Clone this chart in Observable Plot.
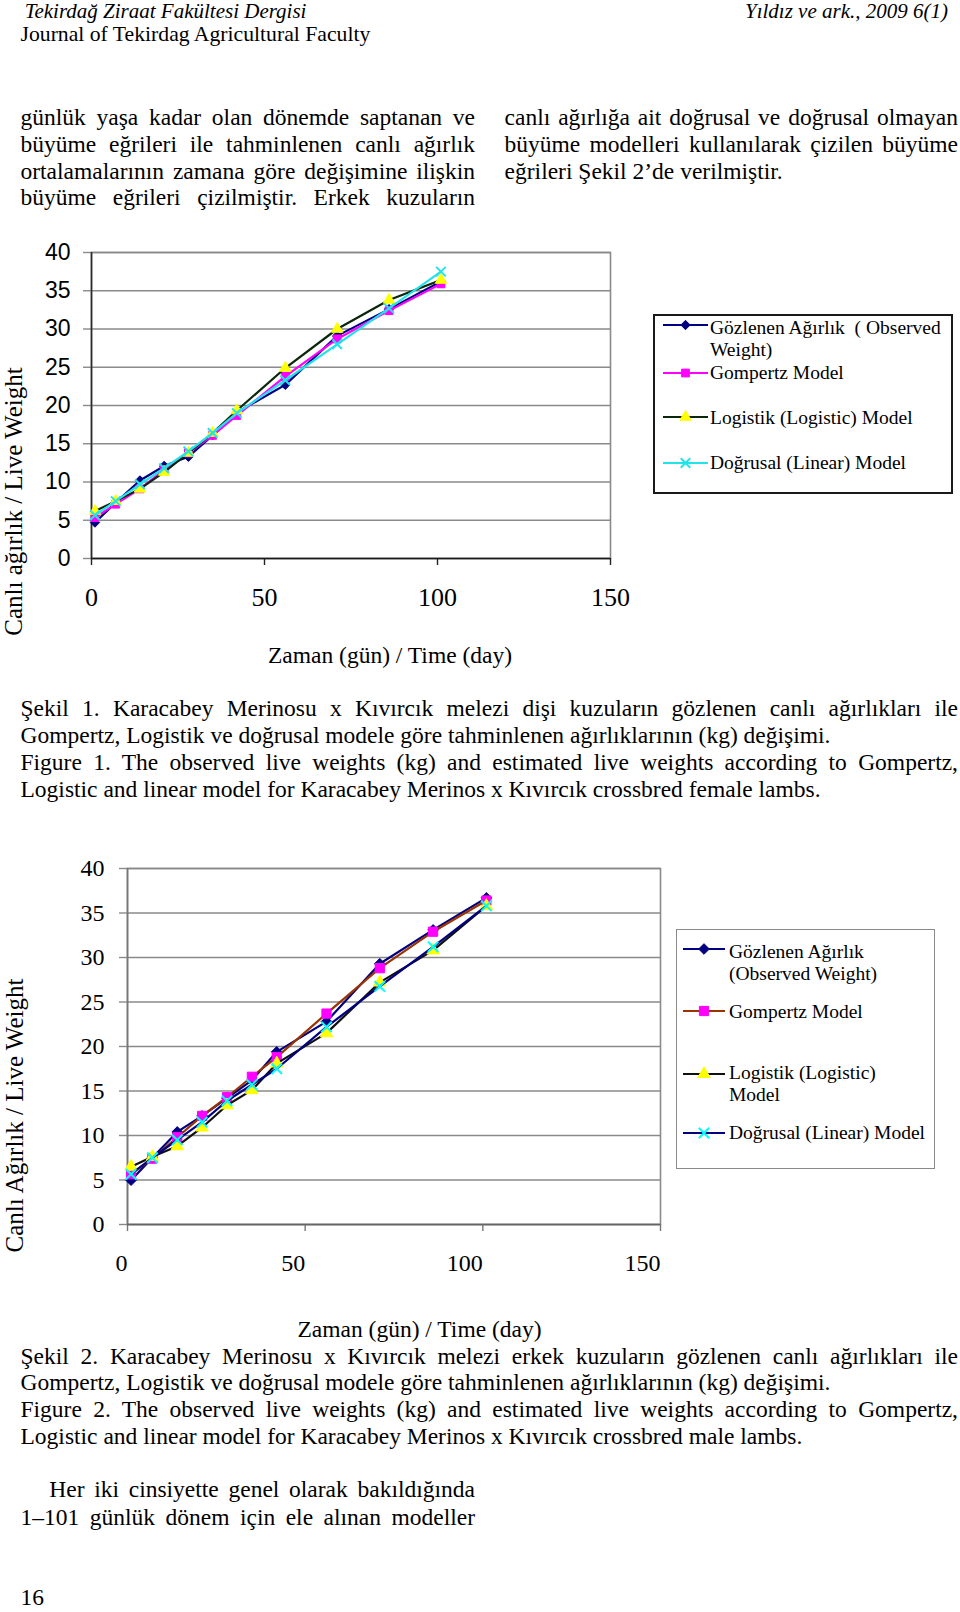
<!DOCTYPE html>
<html>
<head>
<meta charset="utf-8">
<script src="https://cdn.jsdelivr.net/npm/d3@7"></script>
<script src="https://cdn.jsdelivr.net/npm/@observablehq/plot@0.6"></script>
<style>
html,body{margin:0;padding:0;background:#fff;}
#page{position:relative;width:960px;height:1612px;overflow:hidden;background:#fff;font-family:"Liberation Serif","Times New Roman",serif;color:#000;}
.ln{position:absolute;line-height:1;white-space:pre;}
.jl{position:absolute;line-height:1;white-space:nowrap;text-align:justify;text-align-last:justify;}
.chart{position:absolute;left:0;}
.legend{position:absolute;box-sizing:border-box;background:#fff;}
.sw{position:absolute;overflow:visible;}
</style>
</head>
<body>
<div id="page"></div>
<script>
// ---------------- data ----------------
const days = [1, 7, 14, 21, 28, 35, 42, 56, 71, 86, 101];
const seriesNames = ["Observed", "Gompertz", "Logistic", "Linear"];

// Figure 1 (female lambs)
const femaleObserved = [4.7, 7.3, 10.2, 12.1, 13.3, 16.1, 19.1, 22.7, 29.1, 32.6, 36.2];
const femaleGompertz = [5.35, 7.1, 9.1, 11.6, 13.8, 16.1, 18.7, 23.8, 28.7, 32.4, 35.9];
const femaleLogistic = [6.2, 7.5, 9.1, 11.3, 13.8, 16.4, 19.35, 24.9, 30.0, 33.8, 36.4];
const femaleLinear   = [5.65, 7.5, 9.7, 11.8, 14.0, 16.4, 19.0, 23.3, 28.0, 32.7, 37.5];

// Figure 2 (male lambs)
const maleObserved = [4.98, 7.5, 10.4, 12.2, 14.2, 16.2, 19.4, 22.8, 29.3, 33.1, 36.7];
const maleGompertz = [5.65, 7.4, 9.8, 12.2, 14.3, 16.6, 18.8, 23.7, 28.8, 32.9, 36.4];
const maleLogistic = [6.5, 7.6, 8.8, 10.9, 13.4, 15.1, 18.1, 21.5, 27.2, 30.8, 35.8];
const maleLinear   = [5.65, 7.5, 9.5, 11.5, 13.9, 15.7, 17.5, 22.2, 26.75, 31.2, 35.8];

const xTicks = [0, 50, 100, 150];
const yTicks = [0, 5, 10, 15, 20, 25, 30, 35, 40];
const xLabel = "Zaman (gün) / Time (day)";
const yLabel1 = "Canlı ağırlık / Live Weight";
const yLabel2 = "Canlı Ağırlık / Live Weight";
const legend1Labels = [["Gözlenen Ağırlık  ( Observed", "Weight)"], ["Gompertz Model"], ["Logistik (Logistic) Model"], ["Doğrusal (Linear) Model"]];
const legend2Labels = [["Gözlenen Ağırlık", "(Observed Weight)"], ["Gompertz Model"], ["Logistik (Logistic)", "Model"], ["Doğrusal (Linear) Model"]];

// ---------------- styles ----------------
const style1 = [
  {line: "#000080", symbol: "diamond2", fill: "#000080", stroke: "#000080", r: 4.2, sw: 1},
  {line: "#ff00ff", symbol: "square", fill: "#ff00ff", stroke: "#ff00ff", r: 4.4, sw: 1},
  {line: "#0b260b", symbol: "triangle", fill: "#ffff00", stroke: "#ffff00", r: 4.2, sw: 1},
  {line: "#22e2ea", symbol: "times", fill: "none", stroke: "#22e2ea", r: 4.4, sw: 2}
];
const style2 = [
  {line: "#000080", symbol: "diamond2", fill: "#000080", stroke: "#000080", r: 4.8, sw: 1},
  {line: "#993300", symbol: "square", fill: "#ff00ff", stroke: "#ff00ff", r: 5.2, sw: 1},
  {line: "#101010", symbol: "triangle", fill: "#ffff00", stroke: "#ffff00", r: 4.6, sw: 1},
  {line: "#000080", symbol: "times", fill: "none", stroke: "#00ffff", r: 4.8, sw: 2}
];

const page = document.getElementById("page");

function addLine(text, o) {
  const d = document.createElement("div");
  const size = o.size || 23.5;
  d.className = o.w ? "jl" : "ln";
  d.textContent = text;
  d.style.fontSize = size + "px";
  d.style.top = (o.cy - size * 0.51) + "px";
  if (o.right != null) d.style.right = (960 - o.right) + "px"; else d.style.left = o.x + "px";
  if (o.w) d.style.width = o.w + "px";
  if (o.italic) d.style.fontStyle = "italic";
  if (o.family) d.style.fontFamily = o.family;
  page.appendChild(d);
}

// ---------------- page text ----------------
addLine("Tekirdağ Ziraat Fakültesi Dergisi", {x: 24.7, cy: 11.8, size: 21, italic: true});
addLine("Yıldız ve ark., 2009 6(1)", {right: 948, cy: 11.8, size: 21, italic: true});
addLine("Journal of Tekirdag Agricultural Faculty", {x: 20.5, cy: 35, size: 21.7});

const col1 = ["günlük yaşa kadar olan dönemde saptanan ve", "büyüme eğrileri ile tahminlenen canlı ağırlık", "ortalamalarının zamana göre değişimine ilişkin", "büyüme eğrileri çizilmiştir. Erkek kuzuların"];
const col2 = ["canlı ağırlığa ait doğrusal ve doğrusal olmayan", "büyüme modelleri kullanılarak çizilen büyüme"];
const bodyY = [118.2, 144.9, 171.6, 198.4];
col1.forEach((t, i) => addLine(t, {x: 20.5, w: 454.5, cy: bodyY[i]}));
col2.forEach((t, i) => addLine(t, {x: 504.6, w: 453.4, cy: bodyY[i]}));
addLine("eğrileri Şekil 2’de verilmiştir.", {x: 504.6, cy: bodyY[2]});

addLine("Şekil 1. Karacabey Merinosu x Kıvırcık melezi dişi kuzuların gözlenen canlı ağırlıkları ile", {x: 20.5, w: 937.5, cy: 709.2});
addLine("Gompertz, Logistik ve doğrusal modele göre tahminlenen ağırlıklarının (kg) değişimi.", {x: 20.5, cy: 735.9});
addLine("Figure 1. The observed live weights (kg) and estimated live weights according to Gompertz,", {x: 20.5, w: 937.5, cy: 762.6});
addLine("Logistic and linear model for Karacabey Merinos x Kıvırcık crossbred female lambs.", {x: 20.5, cy: 790.4});

addLine("Şekil 2. Karacabey Merinosu x Kıvırcık melezi erkek kuzuların gözlenen canlı ağırlıkları ile", {x: 20.5, w: 937.5, cy: 1356.7});
addLine("Gompertz, Logistik ve doğrusal modele göre tahminlenen ağırlıklarının (kg) değişimi.", {x: 20.5, cy: 1383.4});
addLine("Figure 2. The observed live weights (kg) and estimated live weights according to Gompertz,", {x: 20.5, w: 937.5, cy: 1410.1});
addLine("Logistic and linear model for Karacabey Merinos x Kıvırcık crossbred male lambs.", {x: 20.5, cy: 1436.9});

addLine("Her iki cinsiyette genel olarak bakıldığında", {x: 49.3, w: 425.7, cy: 1490.3});
addLine("1–101 günlük dönem için ele alınan modeller", {x: 20.5, w: 454.5, cy: 1518});
addLine("16", {x: 20.5, cy: 1598});

// ---------------- charts ----------------
function seriesMarks(series, styles) {
  const marks = [];
  series.forEach((vals, si) => {
    const rows = days.map((d, i) => ({series: seriesNames[si], day: d, w: vals[i]}));
    const s = styles[si];
    marks.push(Plot.line(rows, {x: "day", y: "w", stroke: s.line, strokeWidth: 2.2}));
    marks.push(Plot.dot(rows, {x: "day", y: "w", symbol: s.symbol, r: s.r, fill: s.fill, stroke: s.stroke, strokeWidth: s.sw}));
  });
  return marks;
}

const chart1 = Plot.plot({
  width: 620, height: 440,
  marginLeft: 91, marginRight: 10, marginTop: 22, marginBottom: 112,
  x: {domain: [0, 150]},
  y: {domain: [0, 40]},
  style: {fontFamily: "Liberation Serif", fontSize: "26px", color: "#000", background: "transparent", overflow: "visible"},
  marks: [
    Plot.gridY(yTicks, {stroke: "#8a8a8a", strokeOpacity: 1, strokeWidth: 1.4}),
    Plot.frame({stroke: "#8a8a8a", strokeWidth: 1.6}),
    Plot.axisY(yTicks, {tickSize: 8, tickPadding: 13, stroke: "#8a8a8a", strokeWidth: 1.4, fontFamily: "Liberation Sans", fontSize: 23, label: null}),
    Plot.axisX(xTicks, {tickSize: 7, tickPadding: 21.6, stroke: "#222", strokeWidth: 1.4, fontSize: 26, label: null}),
    Plot.ruleX([0], {stroke: "#2a2a2a", strokeWidth: 1.6}),
    Plot.ruleY([0], {stroke: "#1a1a1a", strokeWidth: 1.6}),
    ...seriesMarks([femaleObserved, femaleGompertz, femaleLogistic, femaleLinear], style1),
    Plot.text([xLabel], {text: d => d, frameAnchor: "bottom", textAnchor: "middle", lineAnchor: "middle", dx: 39, dy: 97, fontSize: 23.5}),
    Plot.text([yLabel1], {text: d => d, frameAnchor: "left", textAnchor: "middle", lineAnchor: "middle", dx: -78, dy: 96, rotate: -90, fontSize: 25})
  ]
});
chart1.classList.add("chart");
chart1.style.top = "230px";
page.appendChild(chart1);

const chart2 = Plot.plot({
  width: 680, height: 510,
  marginLeft: 127, marginRight: 20, marginTop: 28, marginBottom: 126,
  x: {domain: [0, 150]},
  y: {domain: [0, 40]},
  style: {fontFamily: "Liberation Serif", fontSize: "24px", color: "#000", background: "transparent", overflow: "visible"},
  marks: [
    Plot.gridY(yTicks, {stroke: "#8a8a8a", strokeOpacity: 1, strokeWidth: 1.4}),
    Plot.frame({stroke: "#8a8a8a", strokeWidth: 1.6}),
    Plot.axisY(yTicks, {tickSize: 8, tickPadding: 15, stroke: "#8a8a8a", strokeWidth: 1.4, fontSize: 24, label: null}),
    Plot.axisX(xTicks, {tickSize: 7, tickPadding: 22.7, stroke: "#777", strokeWidth: 1.4, fontSize: 24, textAnchor: "end", label: null}),
    Plot.ruleX([0], {stroke: "#777", strokeWidth: 1.6}),
    Plot.ruleY([0], {stroke: "#666", strokeWidth: 1.6}),
    ...seriesMarks([maleObserved, maleGompertz, maleLogistic, maleLinear], style2),
    Plot.text([xLabel], {text: d => d, frameAnchor: "bottom", textAnchor: "middle", lineAnchor: "middle", dx: 25.5, dy: 105, fontSize: 23.5}),
    Plot.text([yLabel2], {text: d => d, frameAnchor: "left", textAnchor: "middle", lineAnchor: "middle", dx: -113, dy: 69, rotate: -90, fontSize: 25})
  ]
});
chart2.classList.add("chart");
chart2.style.top = "840px";
page.appendChild(chart2);

// ---------------- legends ----------------
function swatch(x0, x1, cy, s) {
  const w = x1 - x0, h = 20;
  const svg = d3.create("svg").attr("class", "sw").attr("width", w).attr("height", h)
    .style("left", x0 + "px").style("top", (cy - h / 2) + "px");
  svg.append("line").attr("x1", 0).attr("x2", w).attr("y1", h / 2).attr("y2", h / 2)
    .attr("stroke", s.line).attr("stroke-width", 2.2);
  const symMap = {diamond2: d3.symbolDiamond2, square: d3.symbolSquare, triangle: d3.symbolTriangle, times: d3.symbolTimes};
  svg.append("path").attr("transform", `translate(${w / 2},${h / 2})`)
    .attr("d", d3.symbol(symMap[s.symbol], Math.PI * s.r * s.r)())
    .attr("fill", s.fill).attr("stroke", s.stroke).attr("stroke-width", s.sw);
  page.appendChild(svg.node());
}

function legend(box, labels, styles, sx0, sx1, tx, swY, textY, size) {
  const b = document.createElement("div");
  b.className = "legend";
  Object.assign(b.style, {left: box.x + "px", top: box.y + "px", width: box.w + "px", height: box.h + "px", border: box.border});
  page.appendChild(b);
  labels.forEach((lines, i) => {
    swatch(sx0, sx1, swY[i], styles[i]);
    lines.forEach((t, j) => addLine(t, {x: tx, cy: textY[i][j], size}));
  });
}

legend({x: 652.7, y: 314, w: 300.5, h: 179.5, border: "2px solid #1a1a1a"}, legend1Labels, style1,
  663, 708, 710, [325, 372.7, 417.3, 463.3], [[327.7, 349.5], [372.5], [417.5], [462.5]], 19.5);

legend({x: 676, y: 929.3, w: 258.5, h: 240, border: "1.5px solid #8a8a8a"}, legend2Labels, style2,
  683, 725, 729, [949.3, 1010.7, 1074, 1133.3], [[951.7, 974], [1011.7], [1073.3, 1095], [1133.3]], 19.5);
</script>
</body>
</html>
